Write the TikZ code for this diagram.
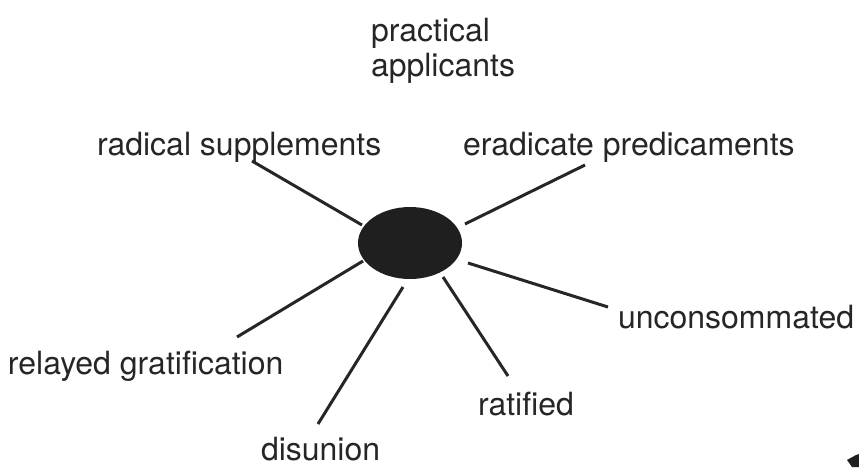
\documentclass[tikz,border=0pt]{standalone}
\usepackage{fontspec}
\setmainfont{TeX Gyre Heros}
\usetikzlibrary{shapes.geometric}
\begin{document}
\begin{tikzpicture}[x=1pt,y=-1pt,
  lbl/.style={anchor=base west,inner sep=0pt,outer sep=0pt,font=\fontsize{32}{38}\selectfont,text=black!85},
  spoke/.style={line width=3pt,black!85}]
\useasboundingbox (0,0) rectangle (859,467);
\node[draw=none,fill=black!88,ellipse,minimum width=104pt,minimum height=72pt,inner sep=0pt] (hub) at (410,243) {};
\node[lbl] (t1) at (371,41) {practical};
\node[lbl] (t2) at (371,76) {applicants};
\node[lbl] (rs) at (97,155) {radical supplements};
\node[lbl] (ep) at (463,155) {eradicate predicaments};
\node[lbl] (un) at (618,328) {unconsommated};
\node[lbl] (rg) at (8,374) {relayed gratification};
\node[lbl] (ra) at (478,415) {ratified};
\node[lbl] (di) at (261,460) {disunion};
\coordinate (rsA) at (362,225); \coordinate (rsB) at (252,161);
\coordinate (epA) at (465,224); \coordinate (epB) at (585,165);
\coordinate (unA) at (468,263); \coordinate (unB) at (608,307);
\coordinate (raA) at (443,277); \coordinate (raB) at (508,376);
\coordinate (diA) at (403,287); \coordinate (diB) at (318,424);
\coordinate (rgA) at (363,261); \coordinate (rgB) at (237,337);
\draw[spoke] (rsA) -- (rsB);
\draw[spoke] (epA) -- (epB);
\draw[spoke] (unA) -- (unB);
\draw[spoke] (raA) -- (raB);
\draw[spoke] (diA) -- (diB);
\draw[spoke] (rgA) -- (rgB);
\fill[black!88] (847,460) -- (856,455) -- (859,454) -- (859,467) -- (852,467) -- cycle;
\end{tikzpicture}
\end{document}
